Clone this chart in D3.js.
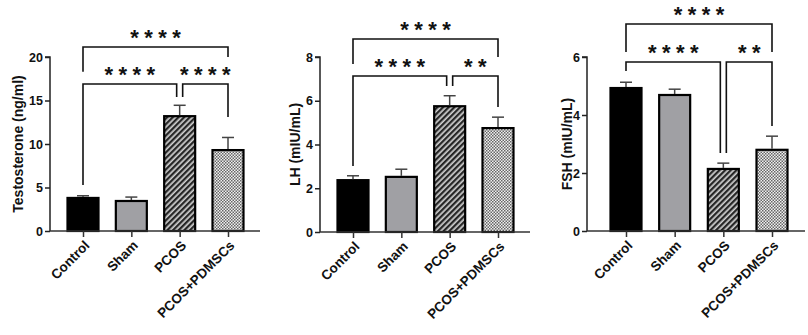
<!DOCTYPE html>
<html><head><meta charset="utf-8">
<script src="https://cdn.jsdelivr.net/npm/d3@7"></script>
<style>body{margin:0;background:#fff;} svg{display:block;font-family:Arial,"Liberation Sans",sans-serif;}</style>
</head><body>
<svg id="c" width="808" height="335"></svg>
<script>
const categories = ["Control", "Sham", "PCOS", "PCOS+PDMSCs"];

const testosterone = [3.8, 3.45, 13.2, 9.3];
const testosteroneErr = [0.25, 0.45, 1.25, 1.45];
const testosteroneTicks = [0, 5, 10, 15, 20];

const lh = [2.37, 2.52, 5.75, 4.75];
const lhErr = [0.2, 0.35, 0.48, 0.5];
const lhTicks = [0, 2, 4, 6, 8];

const fsh = [4.93, 4.69, 2.14, 2.8];
const fshErr = [0.2, 0.2, 0.2, 0.47];
const fshTicks = [0, 2, 4, 6];

// comparisons: [from index, to index, stars, bracket level, left leg end, right leg end] (data units)
const testosteroneSig = [[0, 3, "****", 21.15, 18.3, 20.0], [0, 2, "****", 16.9, 5.3, 15.4], [2, 3, "****", 16.9, 15.4, 13.1]];
const lhSig = [[0, 3, "****", 8.82, 7.68, 8.0], [0, 2, "****", 7.13, 3.02, 6.67], [2, 3, "**", 7.13, 6.67, 5.71]];
const fshSig = [[0, 3, "****", 7.14, 6.17, 6.17], [0, 2, "****", 5.83, 5.52, 2.69], [2, 3, "**", 5.83, 2.69, 3.62]];

const svg = d3.select("#c");
const defs = svg.append("defs");
// diagonal hatch
const hatch = defs.append("pattern").attr("id", "hatch").attr("patternUnits", "userSpaceOnUse")
  .attr("width", 4).attr("height", 4).attr("patternTransform", "rotate(45)");
hatch.append("rect").attr("width", 4).attr("height", 4).attr("fill", "#d0d0d0");
hatch.append("rect").attr("width", 2.3).attr("height", 4).attr("fill", "#262626");
// checker
const chk = defs.append("pattern").attr("id", "checker").attr("patternUnits", "userSpaceOnUse")
  .attr("width", 3).attr("height", 3);
chk.append("rect").attr("width", 3).attr("height", 3).attr("fill", "#f0f0f0");
chk.append("rect").attr("width", 1.5).attr("height", 1.5).attr("fill", "#666");
chk.append("rect").attr("x", 1.5).attr("y", 1.5).attr("width", 1.5).attr("height", 1.5).attr("fill", "#666");

const fills = ["#000000", "#a0a0a4", "url(#hatch)", "url(#checker)"];

const panels = [
  {values: testosterone, err: testosteroneErr, ticks: testosteroneTicks, sig: testosteroneSig, label: "Testosterone (ng/ml)", labelWeight: "bold",
   ax: 50, right: 260, c0: 83, c1: 228, y0: 231, y1: 57, labelX: 18},
  {values: lh, err: lhErr, ticks: lhTicks, sig: lhSig, label: "LH (mIU/mL)", labelWeight: "bold",
   ax: 320, right: 530, c0: 353, c1: 498, y0: 232, y1: 57, labelX: 295},
  {values: fsh, err: fshErr, ticks: fshTicks, sig: fshSig, label: "FSH (mIU/mL)", labelWeight: "600",
   ax: 587, right: 805, c0: 626, c1: 772, y0: 231, y1: 57, labelX: 567}
];

panels.forEach(p => {
  const g = svg.append("g");
  const y = d3.scaleLinear().domain([0, d3.max(p.ticks)]).range([p.y0, p.y1]);
  const x = d3.scalePoint().domain(categories).range([p.c0, p.c1]);
  const bw = 31;

  // bars
  g.selectAll("rect.bar").data(p.values).join("rect")
    .attr("x", (d, i) => x(categories[i]) - bw / 2)
    .attr("y", d => y(d))
    .attr("width", bw)
    .attr("height", d => y(0) - y(d))
    .attr("fill", (d, i) => fills[i])
    .attr("stroke", "#000").attr("stroke-width", 2.2);

  // error bars (upper only)
  p.values.forEach((v, i) => {
    const cx = x(categories[i]);
    g.append("line").attr("x1", cx).attr("x2", cx).attr("y1", y(v) - 1).attr("y2", y(v + p.err[i]))
      .attr("stroke", "#444").attr("stroke-width", 1.5);
    g.append("line").attr("x1", cx - 6).attr("x2", cx + 6).attr("y1", y(v + p.err[i])).attr("y2", y(v + p.err[i]))
      .attr("stroke", "#444").attr("stroke-width", 1.5);
  });

  // y axis
  const yAxis = d3.axisLeft(y).tickValues(p.ticks).tickSize(5).tickPadding(2).tickFormat(d3.format("d"));
  const ya = g.append("g").attr("transform", `translate(${p.ax},0)`).call(yAxis);
  ya.select(".domain").attr("stroke", "#222").attr("stroke-width", 1.5).attr("d", `M-5,${p.y1}H0V${p.y0}`);
  ya.selectAll(".tick line").attr("stroke", "#222").attr("stroke-width", 1.5);
  ya.selectAll(".tick text").attr("font-size", 12.5).attr("font-weight", "bold").attr("fill", "#111")
    .attr("font-family", "Arial,'Liberation Sans',sans-serif");

  // x axis
  const xAxis = d3.axisBottom(x).tickSize(6).tickFormat("");
  const xa = g.append("g").attr("transform", `translate(0,${p.y0})`).call(xAxis);
  xa.select(".domain").attr("stroke", "#333").attr("stroke-width", 1.5).attr("d", `M${p.ax},0H${p.right}`);
  xa.selectAll(".tick line").attr("stroke", "#333").attr("stroke-width", 1.5);

  // x labels
  g.selectAll("text.xl").data(categories).join("text")
    .attr("class", "xl")
    .attr("transform", d => `translate(${x(d) + 4},${p.y0 + 12}) rotate(-45)`)
    .attr("text-anchor", "end").attr("dy", "0.35em")
    .attr("font-size", 13.5).attr("font-weight", "bold").attr("fill", "#111")
    .text(d => d);

  // y label
  g.append("text")
    .attr("transform", `translate(${p.labelX},${(p.y0 + p.y1) / 2}) rotate(-90)`)
    .attr("text-anchor", "middle").attr("dy", "0.35em")
    .attr("font-size", 14).attr("font-weight", p.labelWeight).attr("fill", "#111")
    .text(p.label);

  // significance brackets
  p.sig.forEach(s => {
    let xl = x(categories[s[0]]), xr = x(categories[s[1]]);
    const lvl = y(s[3]);
    // shared endpoints at the same level get separated
    p.sig.forEach(o => {
      if (o === s || o[3] !== s[3]) return;
      if (o[0] === s[1]) xr -= 3;
      if (o[1] === s[0]) xl += 3;
    });
    const path = d3.path();
    path.moveTo(xl, y(s[4])); path.lineTo(xl, lvl); path.lineTo(xr, lvl); path.lineTo(xr, y(s[5]));
    g.append("path").attr("d", path.toString()).attr("fill", "none").attr("stroke", "#111").attr("stroke-width", 1.6);
    const n = s[2].length, mid = (xl + xr) / 2;
    for (let k = 0; k < n; k++) {
      g.append("text").attr("x", mid + (k - (n - 1) / 2) * 14).attr("y", lvl - 12 + 10)
        .attr("text-anchor", "middle").attr("font-size", 22).attr("font-weight", "bold").attr("fill", "#111")
        .text("*");
    }
  });
});
</script>
</body></html>
